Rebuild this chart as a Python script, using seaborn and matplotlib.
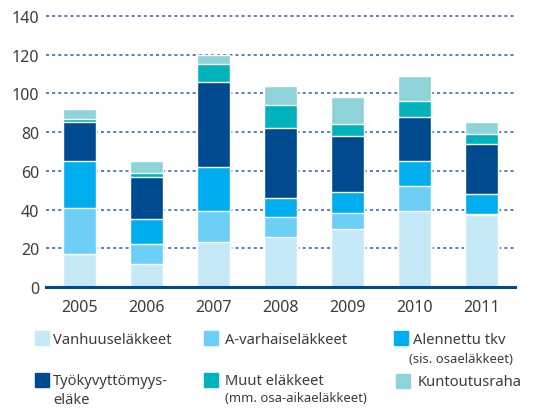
import matplotlib.pyplot as plt
import matplotlib.patches as mpatches
import numpy as np
import seaborn as sns

years = ["2005", "2006", "2007", "2008", "2009", "2010", "2011"]

vanhuus = [17, 12, 23, 26, 30, 39, 37]
a_varhais = [24, 10, 16, 10, 8, 13, 0.6]
alennettu = [24, 13, 23, 10, 11, 13, 10.3]
tyokyvyttomyys = [20, 22, 44, 36, 29, 23, 25.8]
muut = [2, 2, 9, 12, 6, 8, 5.2]
kuntoutus = [5, 6, 5, 10, 14, 13, 6.2]

series_labels = ["Vanhuuseläkkeet", "A-varhaiseläkkeet", "Alennettu tkv",
                 "Työkyvyttömyys-\neläke", "Muut eläkkeet", "Kuntoutusraha"]
series_notes = ["", "", "(sis. osaeläkkeet)", "", "(mm. osa-aikaeläkkeet)", ""]
colors = ["#c6e9f8", "#6dcff6", "#00aeef", "#004a8f", "#00b2bb", "#8ed3d8"]

y_ticks = [0, 20, 40, 60, 80, 100, 120, 140]

TEXT = "#3c3c3c"

sns.set_style("white")
plt.rcParams["font.family"] = ["Noto Sans", "DejaVu Sans"]

fig = plt.figure(figsize=(5.37, 4.10), dpi=100)
ax = fig.add_axes([0.0857, 0.2976, 0.873, 0.661])

stack = np.array([vanhuus, a_varhais, alennettu, tyokyvyttomyys, muut, kuntoutus])
cumulative = np.cumsum(stack, axis=0)

# draw tallest layer first so the lower ones sit on top of it
for level in range(len(colors) - 1, -1, -1):
    sns.barplot(x=years, y=cumulative[level], color=colors[level], saturation=1,
                width=0.49, ax=ax, zorder=3)

ax.set_xlim(-0.5, 6.5)
ax.set_ylim(0, 140)
ax.set_yticks(y_ticks)
ax.set_yticklabels([str(v) for v in y_ticks])
ax.set_xlabel("")
ax.set_ylabel("")

for v in y_ticks[1:]:
    ax.axhline(v, color="#2f5f9e", linestyle=(0, (2.0, 2.0)), linewidth=1.1, zorder=1,
               clip_on=False)

for side in ["top", "right", "left"]:
    ax.spines[side].set_visible(False)
ax.spines["bottom"].set_color("#004a8f")
ax.spines["bottom"].set_linewidth(2.2)
ax.spines["bottom"].set_zorder(4)

ax.tick_params(axis="both", length=0, labelsize=11.5, colors=TEXT)
ax.tick_params(axis="x", pad=8.5)
ax.tick_params(axis="y", pad=5)

# hand-made legend below the plot
W, H = 537, 410
legend_items = [
    (35, 332, 53), (204, 332, 225), (394, 332, 413),
    (35, 374, 53), (204, 374, 225), (396, 375, 418),
]
for i, (sx, sy, tx) in enumerate(legend_items):
    fig.patches.append(mpatches.Rectangle((sx / W, 1 - (sy + 13.5) / H), 13.5 / W, 13.5 / H,
                                          transform=fig.transFigure, color=colors[i]))
    fig.text(tx / W, 1 - (sy + 0.5) / H, series_labels[i], fontsize=10.6, color=TEXT,
             ha="left", va="top", linespacing=1.35)
    if series_notes[i]:
        nx = 409 if i == 2 else tx
        ny = 353 if i == 2 else 392
        fig.text(nx / W, 1 - ny / H, series_notes[i], fontsize=9.4, color=TEXT,
                 ha="left", va="top")

fig.savefig("out.png", dpi=100)
